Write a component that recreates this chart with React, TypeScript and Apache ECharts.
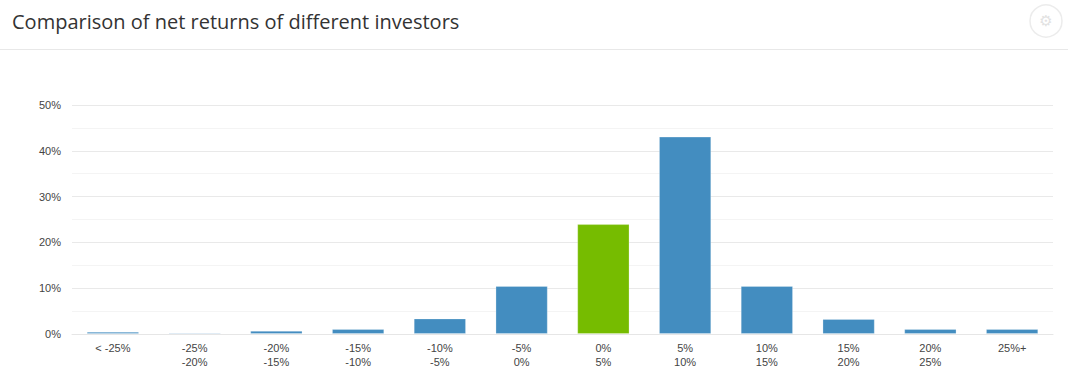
import React, { useEffect, useRef } from "react";
import * as echarts from "echarts";

const categories = [
  "< -25%",
  "-25%\n-20%",
  "-20%\n-15%",
  "-15%\n-10%",
  "-10%\n-5%",
  "-5%\n0%",
  "0%\n5%",
  "5%\n10%",
  "10%\n15%",
  "15%\n20%",
  "20%\n25%",
  "25%+",
];
const values = [0.5, 0.3, 0.7, 1.1, 3.4, 10.5, 24.0, 43.1, 10.5, 3.3, 1.1, 1.1];
const highlightIndex = 6;
const yTicks = [0, 10, 20, 30, 40, 50];
const title = "Comparison of net returns of different investors";

export default function App() {
  const ref = useRef<HTMLDivElement>(null);
  useEffect(() => {
    document.body.style.margin = "0";
    const chart = echarts.init(ref.current!, null, { renderer: "svg" });
    chart.setOption({
      animation: false,
      backgroundColor: "#fff",
      title: {
        text: title,
        left: 7,
        top: 6,
        textStyle: {
          fontFamily: "Open Sans",
          fontSize: 20,
          fontWeight: "normal",
          color: "#333",
        },
      },
      graphic: [
        {
          type: "line",
          shape: { x1: 0, y1: 49.5, x2: 1068, y2: 49.5 },
          style: { stroke: "#e8e8e8", lineWidth: 1 },
        },
        {
          type: "circle",
          shape: { cx: 1046, cy: 21, r: 16 },
          style: { fill: "#fff", stroke: "#ececec", lineWidth: 1.5 },
        },
        {
          type: "text",
          x: 1046,
          y: 21,
          style: {
            text: "⚙",
            fontFamily: "DejaVu Sans",
            fontSize: 15,
            fill: "#e2e2e2",
            align: "center",
            verticalAlign: "middle",
          },
        },
      ],
      grid: { left: 72, right: 15, top: 105, bottom: 57 },
      xAxis: {
        type: "category",
        data: categories,
        axisLine: { lineStyle: { color: "#e6e6e6" } },
        axisTick: { show: false },
        axisLabel: {
          color: "#444",
          fontFamily: "Liberation Sans",
          fontSize: 11,
          lineHeight: 14,
          margin: 7,
          interval: 0,
        },
      },
      yAxis: {
        type: "value",
        min: yTicks[0],
        max: yTicks[yTicks.length - 1],
        interval: 10,
        axisLabel: {
          formatter: "{value}%",
          color: "#444",
          fontFamily: "Liberation Sans",
          fontSize: 11,
          margin: 11,
        },
        axisLine: { show: false },
        axisTick: { show: false },
        splitLine: { lineStyle: { color: "#e9e9e9" } },
        minorTick: { show: false, splitNumber: 2 },
        minorSplitLine: { show: true, lineStyle: { color: "#f4f4f4" } },
      },
      series: [
        {
          type: "bar",
          barCategoryGap: "36%",
          data: values.map((v, i) => ({
            value: v,
            itemStyle: {
              color: i === highlightIndex ? "#76bc00" : "#438dc0",
            },
          })),
          itemStyle: {
            borderColor: "rgba(255,255,255,0.25)",
            borderWidth: 1,
          },
        },
      ],
    });
    return () => chart.dispose();
  }, []);
  return (
    <div
      ref={ref}
      style={{ position: "absolute", left: 0, top: 0, width: 1068, height: 391 }}
    />
  );
}
